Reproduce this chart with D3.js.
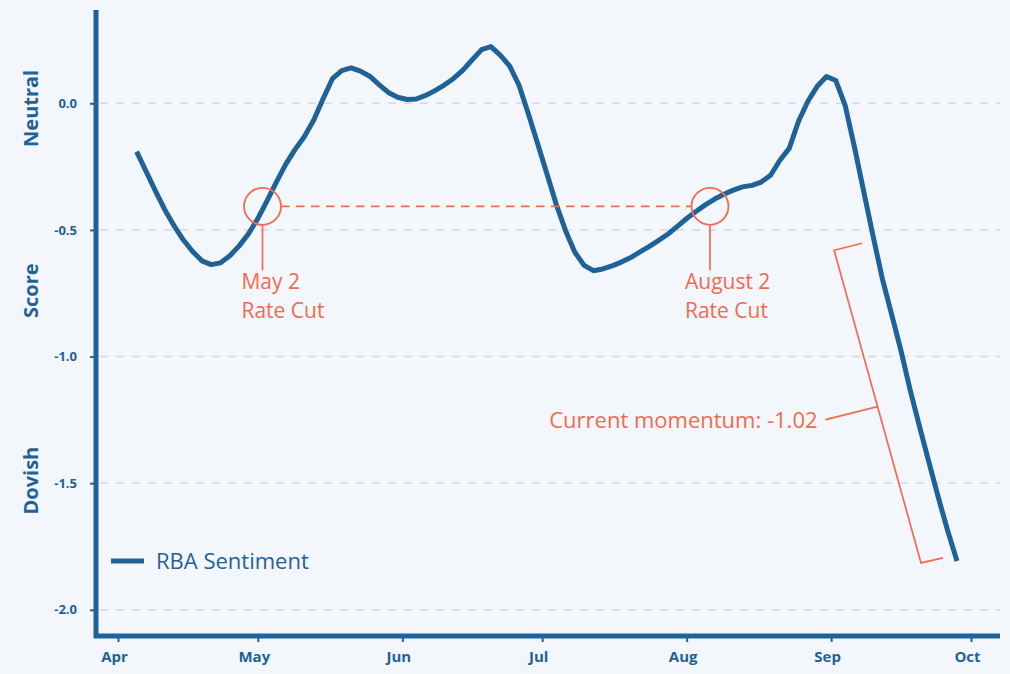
<!DOCTYPE html>
<html>
<head>
<meta charset="utf-8">
<script src="https://cdn.jsdelivr.net/npm/d3@7"></script>
<style>
  html, body { margin: 0; padding: 0; background: #f3f6fb; }
  svg { display: block; font-family: "Open Sans", Lato, sans-serif; }
</style>
</head>
<body>
<svg id="canvas" width="1010" height="674"></svg>
<script>
const width = 1010
const height = 674

// RBA sentiment score, one reading every 2 days from 5 Apr
const firstDate = "2025-04-05"
const stepDays = 2
const scores = [
  -0.191, -0.268, -0.345, -0.419, -0.483, -0.539, -0.585, -0.622, -0.637, -0.630,
  -0.602, -0.563, -0.515, -0.455, -0.384, -0.310, -0.240, -0.182, -0.131, -0.066,
   0.018,  0.097,  0.129,  0.140,  0.127,  0.107,  0.074,  0.043,  0.024,  0.015,
   0.017,  0.031,  0.050,  0.072,  0.098,  0.131,  0.172,  0.212,  0.224,  0.190,
   0.148,  0.073, -0.039, -0.158, -0.277, -0.398, -0.502, -0.588, -0.640, -0.661,
  -0.654, -0.642, -0.627, -0.609, -0.587, -0.565, -0.541, -0.516, -0.486, -0.455,
  -0.427, -0.401, -0.378, -0.359, -0.343, -0.330, -0.324, -0.311, -0.284, -0.225,
  -0.178, -0.071,  0.008,  0.067,  0.106,  0.090, -0.008, -0.173, -0.349, -0.525,
  -0.694, -0.835, -0.979, -1.136, -1.280, -1.419, -1.557, -1.688, -1.807
]
const monthTicks = ["2025-04-01", "2025-05-01", "2025-06-01", "2025-07-01", "2025-08-01", "2025-09-01", "2025-10-01"]
const yTicks = [0, -0.5, -1, -1.5, -2]
const yBands = ["Neutral", "Score", "Dovish"]
const bandValues = [-0.02, -0.74, -1.49]
const cutDates = ["2025-05-02", "2025-08-06"]
const cutLevel = -0.407
const cutLabels = [["May 2", "Rate Cut"], ["August 2", "Rate Cut"]]
const momentum = -1.02

const blue = "#1e6298"
const coral = "#f26a4f"
const parse = d3.timeParse("%Y-%m-%d")
const start = parse(firstDate)
const data = scores.map((v, i) => ({ date: d3.timeDay.offset(start, i * stepDays), value: v }))

const svg = d3.select("#canvas")
svg.append("rect").attr("width", width).attr("height", height).attr("fill", "#f3f6fb")

const x = d3.scaleTime()
  .domain([parse("2025-04-01"), parse("2025-10-01")])
  .range([118, 971])
const y = d3.scaleLinear().domain([-2, 0]).range([609.8, 103.3])

// gridlines
svg.append("g")
  .selectAll("line")
  .data(yTicks)
  .enter().append("line")
  .attr("x1", 100).attr("x2", 1000)
  .attr("y1", d => y(d)).attr("y2", d => y(d))
  .attr("stroke", "#d5d8de").attr("stroke-width", 1.5)
  .attr("stroke-dasharray", "8,8")

// y axis
const yAxis = svg.append("g")
  .attr("transform", "translate(96,0)")
  .call(d3.axisLeft(y).tickValues(yTicks).tickSize(6).tickPadding(13))
yAxis.select(".domain").remove()
yAxis.selectAll(".tick line").attr("stroke", blue).attr("stroke-width", 2)
yAxis.selectAll(".tick text")
  .attr("fill", blue).attr("font-size", 13).attr("font-weight", 700)
  .attr("font-family", "'Open Sans', sans-serif")
  .text(d => d3.format(".1f")(d).replace("−", "-"))

svg.append("g")
  .selectAll("text")
  .data(yBands)
  .enter().append("text")
  .attr("transform", (d, i) => `translate(38,${y(bandValues[i])}) rotate(-90)`)
  .attr("text-anchor", "middle")
  .attr("fill", blue).attr("font-size", 20).attr("font-weight", 700)
  .text(d => d)

// x axis
const xAxis = svg.append("g")
  .attr("transform", "translate(0,636)")
  .call(d3.axisBottom(x).tickValues(monthTicks.map(parse)).tickFormat(d3.timeFormat("%b")).tickSize(6).tickPadding(9))
xAxis.select(".domain").remove()
xAxis.selectAll(".tick line").attr("stroke", blue).attr("stroke-width", 2)
xAxis.selectAll(".tick text")
  .attr("dx", -4)
  .attr("fill", blue).attr("font-size", 15).attr("font-weight", 700)
  .attr("font-family", "'Open Sans', sans-serif")

// axis lines
svg.append("line").attr("x1", 96).attr("x2", 96).attr("y1", 10).attr("y2", 638)
  .attr("stroke", blue).attr("stroke-width", 5)
svg.append("line").attr("x1", 94).attr("x2", 1000).attr("y1", 636).attr("y2", 636)
  .attr("stroke", blue).attr("stroke-width", 5)

// rate-cut annotations
const cx = cutDates.map(d => x(parse(d)))
const cy = y(cutLevel)
const rad = 18.5
const labelDx = [-21, -25]
const ann = svg.append("g").attr("class", "annotations")
ann.append("line")
  .attr("x1", cx[0] + rad).attr("x2", cx[1] - rad).attr("y1", cy).attr("y2", cy)
  .attr("stroke", coral).attr("stroke-width", 1.7).attr("stroke-dasharray", "8.5,6.5")
cx.forEach((c, i) => {
  ann.append("line").attr("x1", c).attr("x2", c).attr("y1", cy + rad).attr("y2", cy + 64)
    .attr("stroke", coral).attr("stroke-width", 1.7)
  cutLabels[i].forEach((s, j) => {
    ann.append("text").attr("fill", coral).attr("font-size", 21)
      .attr("x", c + labelDx[i]).attr("y", cy + 83 + j * 29).text(s)
  })
})

// series line
svg.append("path")
  .datum(data)
  .attr("fill", "none")
  .attr("stroke", blue)
  .attr("stroke-width", 5)
  .attr("stroke-linejoin", "round")
  .attr("d", d3.line().x(d => x(d.date)).y(d => y(d.value)))

cx.forEach(c => {
  ann.append("circle").attr("cx", c).attr("cy", cy).attr("r", rad)
    .attr("fill", "none").attr("stroke", coral).attr("stroke-width", 1.8)
})
ann.raise()

// momentum bracket along the last leg
const lastPt = data[data.length - 1]
const legPt = data[data.length - 10]
const bx0 = x(legPt.date) - 39, by0 = y(legPt.value) + 14
const bx1 = x(lastPt.date) - 36, by1 = y(lastPt.value) + 2
svg.append("path")
  .attr("d", `M${bx0 + 28},${by0 - 7} L${bx0},${by0} L${bx1},${by1} L${bx1 + 22},${by1 - 5}`)
  .attr("fill", "none").attr("stroke", coral).attr("stroke-width", 1.7)
const mx = (bx0 + bx1) / 2, my = (by0 + by1) / 2
svg.append("line")
  .attr("x1", mx).attr("y1", my).attr("x2", mx - 52).attr("y2", my + 13)
  .attr("stroke", coral).attr("stroke-width", 1.7)
svg.append("text")
  .attr("x", mx - 60).attr("y", my + 21)
  .attr("text-anchor", "end")
  .attr("fill", coral).attr("font-size", 22)
  .text(`Current momentum: ${momentum.toFixed(2)}`)

// legend
const legend = svg.append("g").attr("transform", "translate(111,561)")
legend.append("line").attr("x1", 0).attr("x2", 33).attr("stroke", blue).attr("stroke-width", 5)
legend.append("text").attr("x", 45).attr("y", 7.5)
  .attr("fill", blue).attr("font-size", 22).text("RBA Sentiment")
</script>
</body>
</html>
